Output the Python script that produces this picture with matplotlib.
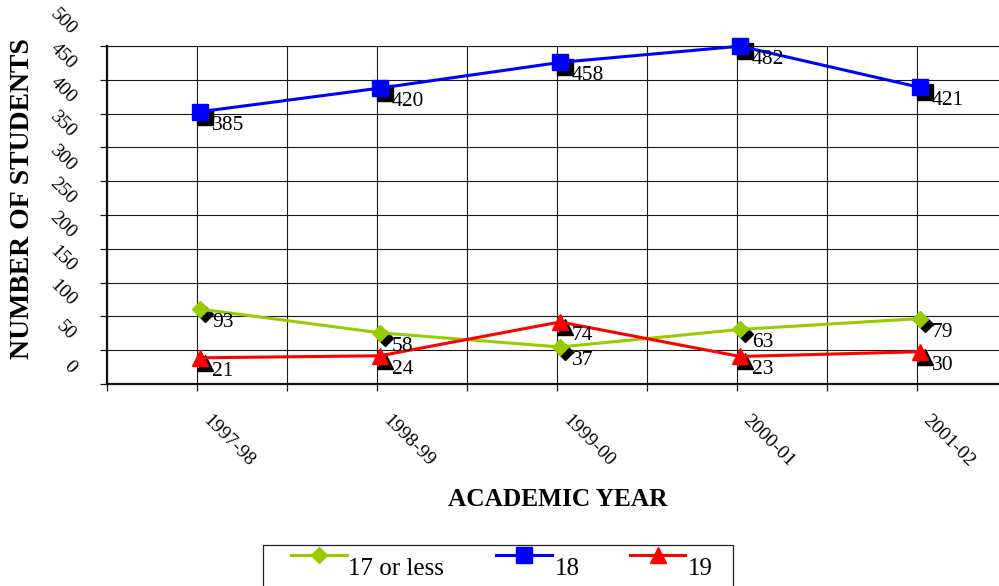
import matplotlib
matplotlib.use("Agg")
import matplotlib.pyplot as plt
import matplotlib.transforms as mtransforms
from matplotlib.lines import Line2D
from matplotlib.patches import Rectangle
import numpy as np

# ------------------------------------------------------------
# data
# ------------------------------------------------------------
years = ['1997-98', '1998-99', '1999-00', '2000-01', '2001-02']
age17 = [93, 58, 37, 63, 79]
age18 = [385, 420, 458, 482, 421]
age19 = [21, 24, 74, 23, 30]
series_names = ['17 or less', '18', '19']
y_labels = list(range(0, 501, 50))

GREEN = '#99CC00'
BLUE = '#0000FF'
RED = '#FF0000'

plt.rcParams['font.family'] = ['Liberation Serif', 'DejaVu Serif']

W, H = 999, 586
fig = plt.figure(figsize=(W / 100, H / 100), dpi=100)

# plot area (pixels): left 107, top 46, bottom 384, runs off the right edge
ax = fig.add_axes([107 / W, 1 - 384 / H, 900 / W, 338 / H])

x = np.arange(len(years))
x0 = -0.5167          # left edge of plot area in category units
y0 = -17.75           # gridlines are shifted against the value labels
ax.set_xlim(x0, x0 + 5)
ax.set_ylim(y0, y0 + 500)

ax.set_xticks([x0 + 0.5 * k for k in range(10)])
ax.set_yticks([y0 + 50 * k for k in range(11)])
ax.grid(True, color='#1a1a1a', lw=0.8)
ax.tick_params(labelbottom=False, labelleft=False, length=5, width=0.9,
               direction='out', color='#1a1a1a')
ax.spines['right'].set_visible(False)
ax.spines['top'].set_linewidth(0.8)
ax.spines['top'].set_color('#1a1a1a')
for s in ['left', 'bottom']:
    ax.spines[s].set_linewidth(1.6)
    ax.spines[s].set_color('#111111')
ax.set_axisbelow(True)

# ------------------------------------------------------------
# lines with black drop-shadow markers
# ------------------------------------------------------------
shadow = ax.transData + mtransforms.ScaledTranslation(5 / 100, -5 / 100, fig.dpi_scale_trans)
series = [
    (age17, GREEN, 'D', 8),
    (age18, BLUE, 's', 11),
    (age19, RED, '^', 12),
]
for vals, col, mk, ms in series:
    ax.plot(x, vals, ls='none', marker=mk, ms=ms, color='black',
            transform=shadow, zorder=3, clip_on=False)
for vals, col, mk, ms in series:
    ax.plot(x, vals, color=col, lw=2.2, marker=mk, ms=ms, mec=col,
            zorder=4, clip_on=False)
    for xi, v in zip(x, vals):
        ax.annotate(str(v), (xi, v), xytext=(12, -18), textcoords='offset pixels',
                    fontsize=15.5, ha='left', va='baseline', zorder=5)

# ------------------------------------------------------------
# rotated tick labels
# ------------------------------------------------------------
ytrans = mtransforms.blended_transform_factory(ax.transAxes, ax.transData) + \
    mtransforms.ScaledTranslation(-37 / 100, -2 / 100, fig.dpi_scale_trans)
for v in y_labels:
    ax.text(0, v, str(v), transform=ytrans, rotation=-45, rotation_mode='anchor',
            ha='right', va='baseline', fontsize=14, clip_on=False)

xtrans = mtransforms.blended_transform_factory(ax.transData, ax.transAxes) + \
    mtransforms.ScaledTranslation(2 / 100, -37 / 100, fig.dpi_scale_trans)
for xi, lab in zip(x, years):
    ax.text(xi, 0, lab, transform=xtrans, rotation=-45, rotation_mode='anchor',
            ha='left', va='baseline', fontsize=14, clip_on=False)

fig.text(23 / W, 1 - 199 / H, 'NUMBER OF STUDENTS', rotation=90, ha='center',
         va='center', fontsize=20, weight='bold')
fig.text(558 / W, 1 - 499 / H, 'ACADEMIC YEAR', ha='center', va='center',
         fontsize=18.3, weight='bold')

# ------------------------------------------------------------
# legend (drawn by hand, text sits below the handle like the original)
# ------------------------------------------------------------
fig.add_artist(Rectangle((263 / W, 1 - 600 / H), (733 - 263) / W, (600 - 545) / H,
                         transform=fig.transFigure, fill=False, ec='#222222', lw=0.9))
leg_x0 = [291, 496, 630]
leg_x1 = [347, 552, 685]
leg_tx = [348, 555, 688]
leg_y = 1 - 555 / H
for (vals, col, mk, ms), name, a, b, t in zip(series, series_names, leg_x0, leg_x1, leg_tx):
    fig.add_artist(Line2D([a / W, b / W], [leg_y, leg_y], color=col, lw=2.2,
                          transform=fig.transFigure))
    fig.add_artist(Line2D([(a + b) / 2 / W], [leg_y], color=col, marker=mk, ms=ms,
                          mec=col, transform=fig.transFigure))
    fig.text(t / W, 1 - 575 / H, name, fontsize=18, ha='left', va='baseline')

fig.savefig('out.png', dpi=100)
